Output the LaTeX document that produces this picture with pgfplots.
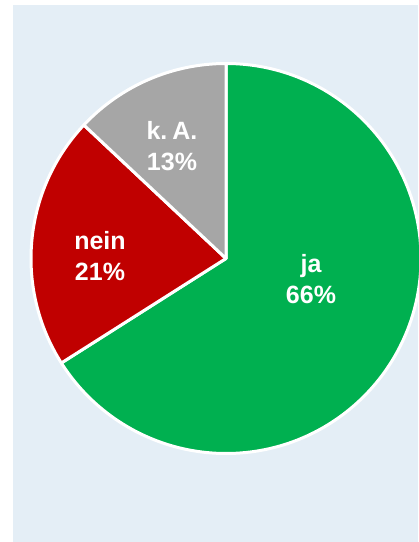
\documentclass[border=0pt]{standalone}
\usepackage{pgfplots}
\usepackage{pgfplotstable}
\pgfplotsset{compat=1.18}
\usepackage{fontspec}
\setmainfont{Liberation Sans}

\definecolor{bgblue}{HTML}{E4EEF6}
\definecolor{jagreen}{HTML}{00B050}
\definecolor{neinred}{HTML}{C00000}
\definecolor{kagray}{HTML}{A6A6A6}

% shares in percent, clockwise from 12 o'clock
\pgfplotstableread{
label value
ja    66
nein  21
kA    13
}\piedata

\begin{document}
\begin{tikzpicture}
\pgfplotstablegetelem{0}{value}\of\piedata \pgfmathsetmacro\vja{\pgfplotsretval}
\pgfplotstablegetelem{1}{value}\of\piedata \pgfmathsetmacro\vnein{\pgfplotsretval}
\pgfplotstablegetelem{2}{value}\of\piedata \pgfmathsetmacro\vka{\pgfplotsretval}
\pgfmathsetmacro\aS{90}
\pgfmathsetmacro\aJa{\aS-3.6*\vja}
\pgfmathsetmacro\aNein{\aJa-3.6*\vnein}
\pgfmathsetmacro\aKa{\aNein-3.6*\vka}
\begin{axis}[
    hide axis,
    scale only axis,
    x=1pt, y=1pt,
    xmin=0, xmax=419,
    ymin=0, ymax=542,
]
\path (0,0) rectangle (419,542);
\fill[bgblue] (13,0) rectangle (418,537);
\begin{scope}[draw=white, line width=3pt, line join=round]
\filldraw[fill=jagreen] (226,283.5) -- ++(\aS:195pt)
    arc[start angle=\aS, end angle=\aJa, radius=195pt] -- cycle;
\filldraw[fill=neinred] (226,283.5) -- ++(\aJa:195pt)
    arc[start angle=\aJa, end angle=\aNein, radius=195pt] -- cycle;
\filldraw[fill=kagray] (226,283.5) -- ++(\aNein:195pt)
    arc[start angle=\aNein, end angle=\aKa, radius=195pt] -- cycle;
\end{scope}
\begin{scope}[every node/.style={text=white, align=center,
    font=\fontsize{25}{31}\selectfont\bfseries}]
\node at (311,263) {ja\\66\%};
\node at (100,286) {nein\\21\%};
\node at (172,396) {k.\hspace{0.2em}A.\\13\%};
\end{scope}
\end{axis}
\end{tikzpicture}
\end{document}
